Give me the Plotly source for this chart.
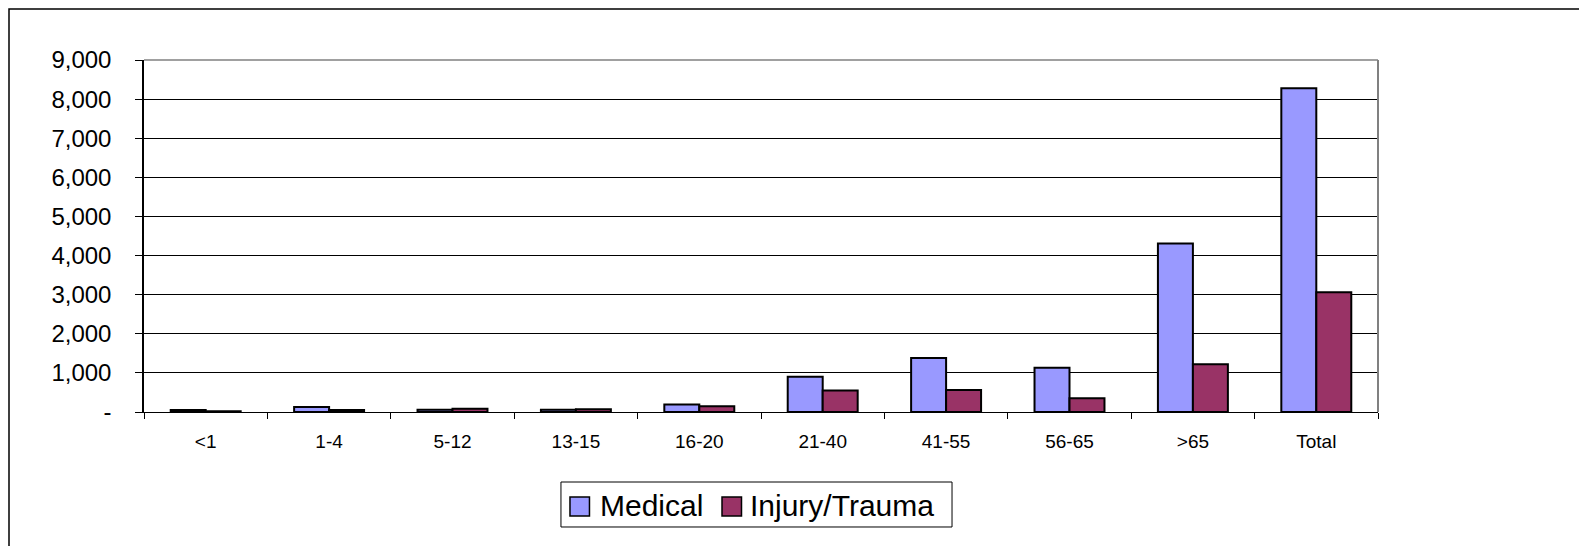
"""Age group call counts — Plotly grouped bar chart."""
import plotly.graph_objects as go

categories = ['<1', '1-4', '5-12', '13-15', '16-20', '21-40', '41-55', '56-65', '>65', 'Total']
medical = [50, 130, 60, 60, 190, 900, 1380, 1130, 4310, 8280]
injury = [20, 50, 80, 70, 150, 550, 560, 350, 1220, 3060]
y_ticks = [0, 1000, 2000, 3000, 4000, 5000, 6000, 7000, 8000, 9000]
y_tick_labels = ['-', '1,000', '2,000', '3,000', '4,000', '5,000', '6,000', '7,000', '8,000', '9,000']
series_names = ['Medical', 'Injury/Trauma']
series_colors = ['#9999FF', '#993366']

FONT = "Arial, 'Liberation Sans', sans-serif"

fig = go.Figure()
for name, vals, col in zip(series_names, [medical, injury], series_colors):
    fig.add_trace(go.Bar(
        x=categories, y=vals, name=name, showlegend=False,
        marker=dict(color=col, line=dict(color='#000000', width=2)),
    ))

# outer chart frame (left and top edges visible in the original)
fig.add_shape(type='rect', xref='paper', yref='paper',
              x0=-0.1094, x1=1.5, y0=-1.0, y1=1.1449,
              line=dict(color='#000000', width=1.5), layer='below')

# plot area border on top and right in grey
fig.add_shape(type='line', xref='paper', yref='paper', x0=1, x1=1, y0=0, y1=1,
              line=dict(color='#808080', width=2))
fig.add_shape(type='line', xref='paper', yref='paper', x0=0, x1=1, y0=1, y1=1,
              line=dict(color='#808080', width=1.5))

# legend drawn by hand so the swatches are as big as in the original
fig.add_shape(type='rect', xref='paper', yref='paper',
              x0=0.3379, x1=0.6548, y0=-0.3267, y1=-0.1989,
              line=dict(color='#000000', width=1), fillcolor='#FFFFFF')
swatch_x = [0.3452, 0.4684]
text_x = [0.3679, 0.4895]
for name, col, sx, tx in zip(series_names, series_colors, swatch_x, text_x):
    fig.add_shape(type='rect', xref='paper', yref='paper',
                  x0=sx, x1=sx + 0.0158, y0=-0.2955, y1=-0.2415,
                  line=dict(color='#000000', width=1.5), fillcolor=col)
    fig.add_annotation(text=name, xref='paper', yref='paper', x=tx, y=-0.265,
                       xanchor='left', yanchor='middle', showarrow=False,
                       font=dict(size=30, family=FONT, color='#000000'))

fig.update_layout(
    width=1579, height=538,
    margin=dict(l=136, r=209, t=52, b=134, pad=0),
    paper_bgcolor='#FFFFFF', plot_bgcolor='#FFFFFF',
    font=dict(family=FONT, color='#000000'),
    barmode='group', bargap=0.433, bargroupgap=0,
    showlegend=False,
    xaxis=dict(
        showgrid=False, zeroline=False,
        showline=True, linecolor='#000000', linewidth=1,
        ticks='outside', ticklen=6, tickcolor='#000000',
        tickson='boundaries',
        tickfont=dict(size=19, family=FONT, color='#000000'),
        ticklabelstandoff=12,
    ),
    yaxis=dict(
        range=[0, 9000],
        tickvals=y_ticks, ticktext=y_tick_labels,
        showgrid=True, gridcolor='#000000', gridwidth=1,
        zeroline=False,
        showline=True, linecolor='#000000', linewidth=1.5,
        ticks='outside', ticklen=7, tickcolor='#000000',
        tickfont=dict(size=24, family=FONT, color='#000000'),
        ticklabelstandoff=19,
    ),
)

fig.write_html("out.html")
